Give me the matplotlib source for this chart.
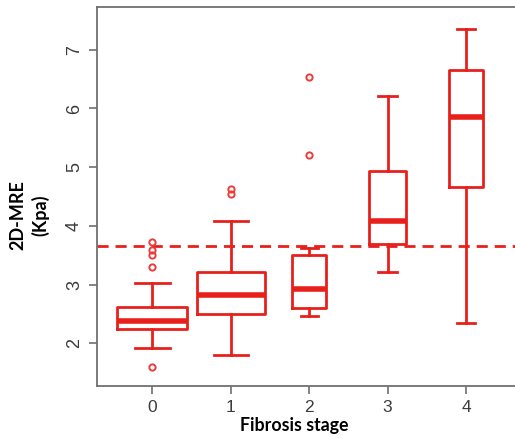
import matplotlib.pyplot as plt

# box statistics (Kpa)
stages = [0, 1, 2, 3, 4]
q1 = [2.24, 2.50, 2.60, 3.69, 4.67]
medians = [2.38, 2.82, 2.93, 4.08, 5.85]
q3 = [2.62, 3.22, 3.50, 4.94, 6.66]
whislo = [1.92, 1.79, 2.47, 3.22, 2.35]
whishi = [3.03, 4.08, 3.63, 6.22, 7.35]
fliers = [[1.59, 3.30, 3.50, 3.59, 3.73], [4.54, 4.63], [5.20, 6.53], [], []]
cutoff = 3.65

# variable box widths (R varwidth look)
box_w = [0.89, 0.87, 0.44, 0.48, 0.44]

red = "#e8201c"
frame = "#707070"

fig = plt.figure(figsize=(5.15, 4.38), dpi=100)
ax = fig.add_axes([97 / 515, 52 / 438, 1 - 97 / 515, 379 / 438])

stats = []
for i in range(len(stages)):
    stats.append(dict(med=medians[i], q1=q1[i], q3=q3[i],
                      whislo=whislo[i], whishi=whishi[i], fliers=fliers[i]))

ax.bxp(stats, positions=stages, widths=box_w,
       capwidths=[w / 2 for w in box_w],
       boxprops=dict(color=red, linewidth=2),
       whiskerprops=dict(color=red, linewidth=2),
       capprops=dict(color=red, linewidth=2),
       medianprops=dict(color=red, linewidth=4, solid_capstyle="butt"),
       flierprops=dict(marker="o", markersize=4.5, markerfacecolor="none",
                       markeredgecolor="#ea3c3a", markeredgewidth=1.4))

ax.axhline(cutoff, color=red, linewidth=2, linestyle=(0, (4, 2.5)), zorder=0)

ax.set_xlim(-0.705, 4.625)
ax.set_ylim(1.27, 7.73)
ax.set_xticks(stages)
ax.set_xticklabels([str(s) for s in stages])
ax.set_yticks([2, 3, 4, 5, 6, 7])

for side in ["left", "top", "bottom"]:
    ax.spines[side].set_color(frame)
    ax.spines[side].set_linewidth(1.3)
ax.spines["right"].set_visible(False)

ax.tick_params(axis="both", colors=frame, length=6, width=1.2,
               labelcolor="#3c3c3c")
for lab in ax.get_xticklabels():
    lab.set_fontfamily("Liberation Sans")
    lab.set_fontsize(12.5)
for lab in ax.get_yticklabels():
    lab.set_fontfamily("Liberation Sans")
    lab.set_fontsize(13)
    lab.set_rotation(90)
    lab.set_verticalalignment("center")
ax.tick_params(axis="y", pad=4)
ax.tick_params(axis="x", pad=4)

fig.text(294.6 / 515, 1 - 425 / 438, "Fibrosis stage", ha="center", va="center",
         fontfamily="Lato", fontweight="bold", fontsize=12.8)
fig.text(29.5 / 515, 1 - 215 / 438, "2D-MRE\n(Kpa)", ha="center", va="center",
         multialignment="center", rotation=90, fontfamily="Lato",
         fontweight="bold", fontsize=13, linespacing=1.3)

fig.savefig("out.png", dpi=100)
